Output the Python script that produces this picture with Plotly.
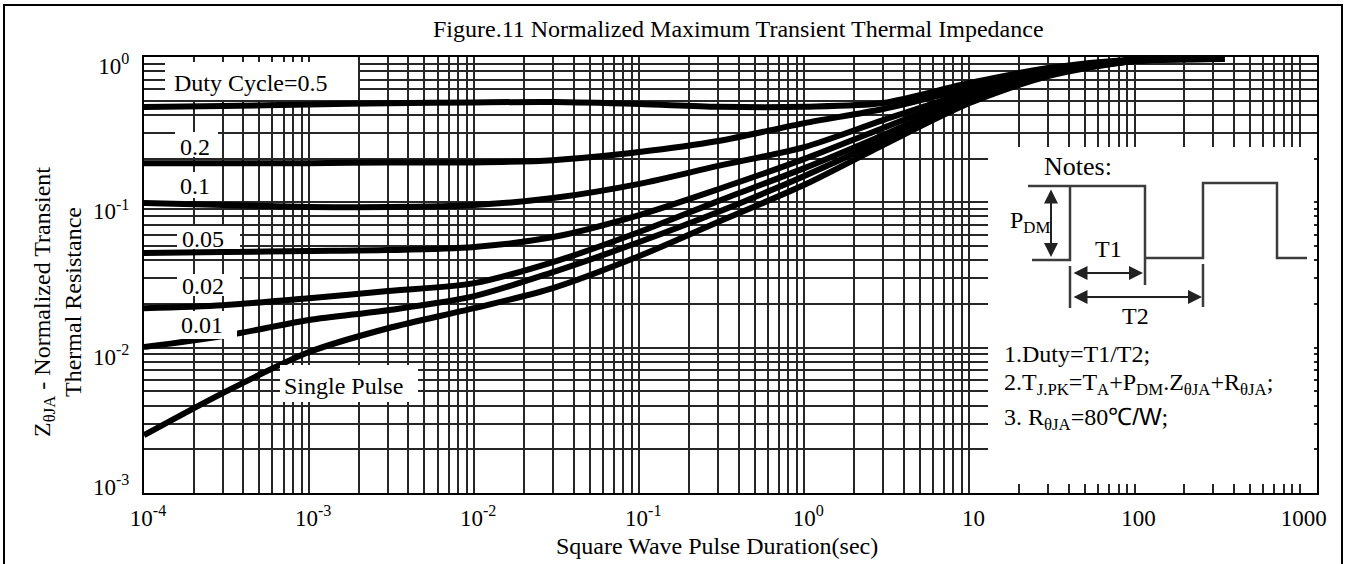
import plotly.graph_objects as go

t = [1e-4, 3e-4, 1e-3, 3e-3, 1e-2, 3e-2, 0.1, 0.3, 1, 3, 10, 30, 100, 350]

# normalized transient thermal impedance, one list per duty cycle
z_d05 = [0.453, 0.460, 0.472, 0.480, 0.487, 0.490, 0.475, 0.455, 0.455, 0.482, 0.662, 0.840, 0.961, 0.969]
z_d02 = [0.186, 0.186, 0.186, 0.188, 0.188, 0.195, 0.222, 0.264, 0.351, 0.439, 0.612, 0.814, 0.954, 0.969]
z_d01 = [0.0989, 0.0958, 0.0930, 0.0928, 0.0958, 0.107, 0.134, 0.178, 0.240, 0.368, 0.574, 0.788, 0.954, 0.969]
z_d005 = [0.0448, 0.0455, 0.0462, 0.0469, 0.0493, 0.0577, 0.0818, 0.123, 0.199, 0.325, 0.548, 0.776, 0.939, 0.969]
z_d002 = [0.0187, 0.0196, 0.0219, 0.0245, 0.0278, 0.0388, 0.0625, 0.102, 0.172, 0.290, 0.522, 0.764, 0.939, 0.969]
z_d001 = [0.0101, 0.0120, 0.0155, 0.0181, 0.0226, 0.0331, 0.0533, 0.0857, 0.152, 0.268, 0.506, 0.752, 0.939, 0.969]
z_single = [0.00250, 0.00487, 0.00933, 0.0136, 0.0187, 0.0257, 0.0427, 0.0732, 0.132, 0.248, 0.482, 0.740, 0.939, 0.969]

x_tickvals = [1e-4, 1e-3, 1e-2, 1e-1, 1, 10, 100, 1000]
x_ticktext = ["10<sup>-4</sup>", "10<sup>-3</sup>", "10<sup>-2</sup>", "10<sup>-1</sup>",
              "10<sup>0</sup>", "10", "100", "1000"]
y_tickvals = [1, 0.1, 0.01, 0.001]
y_ticktext = ["10<sup>0</sup>", "10<sup>-1</sup>", "10<sup>-2</sup>", "10<sup>-3</sup><br>\u00a0"]

W, H = 1346, 564
L, R, T, B = 144, 29, 57, 71
PW, PH = W - L - R, H - T - B
FONT = "Liberation Serif, Times New Roman, serif"
GRID = "#262626"
FS = 24


def px(x):
    return (x - L) / PW


def py(y):
    return (H - B - y) / PH


fig = go.Figure()

for z in [z_d05, z_d02, z_d01, z_d005, z_d002, z_d001, z_single]:
    fig.add_trace(go.Scatter(x=t, y=z, mode="lines",
                             line=dict(color="black", width=6, shape="spline", smoothing=0.8),
                             showlegend=False, hoverinfo="skip"))

shapes = []
annotations = []

# white boxes behind the curve labels
labels = [
    ("Duty Cycle=0.5", (165, 358, 62, 100), 172, 83),
    ("0.2", (175, 218, 132, 157), 178, 147),
    ("0.1", (147, 212, 172, 198), 178, 186),
    ("0.05", (177, 240, 226, 249), 180, 239),
    ("0.02", (177, 240, 274, 296), 180, 286),
    ("0.01", (176, 237, 311, 339), 179, 325),
    ("Single Pulse", (280, 418, 365, 402), 282, 386),
]
for text, (x0, x1, y0, y1), tx, ty in labels:
    shapes.append(dict(type="rect", xref="paper", yref="paper", layer="above",
                       x0=px(x0), x1=px(x1), y0=py(y1), y1=py(y0),
                       fillcolor="white", line=dict(width=0)))
    annotations.append(dict(text=text, xref="paper", yref="paper", x=px(tx), y=py(ty),
                            xanchor="left", yanchor="middle", showarrow=False,
                            font=dict(size=FS, family=FONT, color="black")))

# notes panel
shapes.append(dict(type="rect", xref="paper", yref="paper", layer="above",
                   x0=px(988), x1=px(1314), y0=py(484), y1=py(147),
                   fillcolor="white", line=dict(width=0)))

wave = [(1032, 260), (1070, 260), (1070, 186), (1145, 186), (1145, 258), (1203, 258),
        (1203, 183), (1277, 183), (1277, 258), (1307, 258)]
path = "M " + " L ".join(f"{px(a):.5f},{py(b):.5f}" for a, b in wave)
segs = [((1028, 186), (1070, 186)), ((1145, 258), (1145, 285)),
        ((1070, 266), (1070, 308)), ((1203, 264), (1203, 307))]
for (a, b), (c, d) in segs:
    path += f" M {px(a):.5f},{py(b):.5f} L {px(c):.5f},{py(d):.5f}"
shapes.append(dict(type="path", xref="paper", yref="paper", layer="above", path=path,
                   line=dict(color="#3c3c3c", width=2.5)))

arrows = [((1051, 188), (1051, 257)), ((1072, 273), (1143, 273)), ((1072, 297), (1202, 297))]
for (a, b), (c, d) in arrows:
    annotations.append(dict(text="", xref="paper", yref="paper", x=px(c), y=py(d),
                            ax=a - c, ay=b - d, showarrow=True, arrowhead=2,
                            arrowside="end+start", arrowsize=1.4, arrowwidth=2,
                            arrowcolor="#222", standoff=0, startstandoff=0))

notes = [
    ("Notes:", 1042, 166, 26),
    ("P<sub>DM</sub>", 1008, 222, FS),
    ("T1", 1093, 249, FS),
    ("T2", 1120, 316, FS),
    ("1.Duty=T1/T2;", 1002, 354, FS),
    ("2.T<sub>J.PK</sub>=T<sub>A</sub>+P<sub>DM</sub>.Z<sub>θJA</sub>+R<sub>θJA</sub>;", 1002, 384, FS),
    ("3. R<sub>θJA</sub>=80<span style='font-family:Liberation Sans'>℃/W</span>;", 1002, 418, FS),
]
for text, tx, ty, size in notes:
    annotations.append(dict(text=text, xref="paper", yref="paper", x=px(tx), y=py(ty),
                            xanchor="left", yanchor="middle", showarrow=False,
                            font=dict(size=size, family=FONT, color="black")))

# titles
annotations.append(dict(text="Figure.11 Normalized Maximum Transient Thermal Impedance",
                        xref="paper", yref="paper", x=px(738), y=py(29), showarrow=False,
                        xanchor="center", yanchor="middle",
                        font=dict(size=FS, family=FONT, color="black")))
annotations.append(dict(text="Square Wave Pulse Duration(sec)",
                        xref="paper", yref="paper", x=px(717), y=py(546), showarrow=False,
                        xanchor="center", yanchor="middle",
                        font=dict(size=FS, family=FONT, color="black")))
annotations.append(dict(text="Z<sub>θJA</sub> - Normalized Transient<br>Thermal Resistance",
                        xref="paper", yref="paper", x=px(57), y=py(302), showarrow=False,
                        textangle=-90, xanchor="center", yanchor="middle",
                        font=dict(size=FS, family=FONT, color="black")))

# outer frame
shapes.append(dict(type="rect", xref="paper", yref="paper", layer="above",
                   x0=px(4), x1=px(1342), y0=py(575), y1=py(5),
                   line=dict(color="black", width=2), fillcolor="rgba(0,0,0,0)"))

axis_common = dict(type="log", showgrid=True, gridcolor=GRID, gridwidth=2.2,
                   minor=dict(dtick="D1", showgrid=True, gridcolor=GRID, gridwidth=2.2),
                   showline=True, linecolor="black", linewidth=2, mirror=True,
                   ticks="", zeroline=False, tickmode="array",
                   tickfont=dict(size=23, family=FONT, color="black"))

fig.update_layout(
    width=W, height=H,
    margin=dict(l=L, r=R, t=T, b=B),
    paper_bgcolor="white", plot_bgcolor="white",
    xaxis=dict(axis_common, range=[-4, 3.105], tickvals=x_tickvals, ticktext=x_ticktext,
               ticklabelshift=4, ticklabelstandoff=3),
    yaxis=dict(axis_common, range=[-3, 0], tickvals=y_tickvals, ticktext=y_ticktext,
               ticklabelshift=9, ticklabelstandoff=8),
    shapes=shapes,
    annotations=annotations,
)

fig.write_html("out.html", config={"displayModeBar": False},
               post_script="document.body.style.margin='0';document.body.style.overflow='hidden';")
